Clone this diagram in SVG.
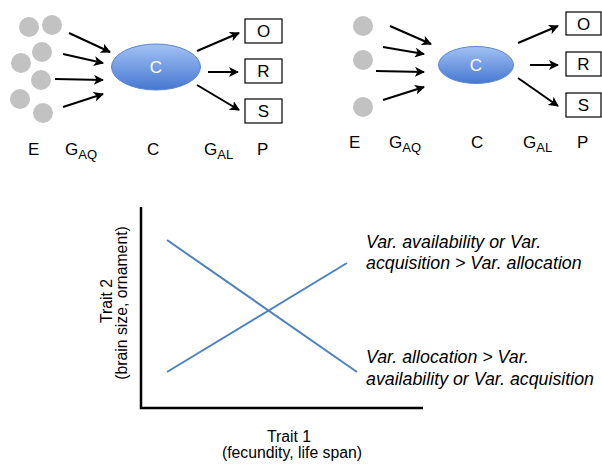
<svg xmlns="http://www.w3.org/2000/svg" width="602" height="464" viewBox="0 0 602 464">
<defs>
<style>
.dot{fill:#c2c2c2}
.arr{stroke:#000;stroke-width:2;fill:none;marker-end:url(#ah)}
.box{fill:#fff;stroke:#000;stroke-width:1.2}
.t{font-family:"Liberation Sans",Arial,sans-serif;fill:#000}
.lbl{font-size:17px}
.sub{font-size:13px}
.bx{font-size:17px;text-anchor:middle}
.cw{font-family:"Liberation Sans",Arial,sans-serif;fill:#fff;font-size:17px;text-anchor:middle}
.ax{stroke:#000;stroke-width:2.5;fill:none}
.bl{stroke:#4f81bd;stroke-width:2;fill:none}
.it{font-size:17.8px;font-style:italic}
.al{font-size:15.8px;text-anchor:middle}
</style>
<marker id="ah" viewBox="0 0 10 10" refX="9" refY="5" markerWidth="5" markerHeight="5" orient="auto" markerUnits="strokeWidth">
<path d="M0,0 L10,5 L0,10 L2.5,5 z" fill="#000"/>
</marker>
<linearGradient id="eg" x1="0" y1="0" x2="0" y2="1">
<stop offset="0" stop-color="#a3c2f5"/>
<stop offset="1" stop-color="#4677d0"/>
</linearGradient>
</defs>

<!-- Left panel -->
<g id="left-E">
<circle class="dot" cx="29" cy="27" r="10"/>
<circle class="dot" cx="52" cy="25" r="10"/>
<circle class="dot" cx="42" cy="52" r="10"/>
<circle class="dot" cx="21" cy="63" r="10"/>
<circle class="dot" cx="41" cy="80" r="10"/>
<circle class="dot" cx="20" cy="99" r="10"/>
<circle class="dot" cx="43" cy="113" r="10"/>
</g>
<g id="left-C">
<ellipse cx="156" cy="67" rx="44.5" ry="23" fill="url(#eg)" stroke="#5a86cf" stroke-width="1"/>
<text class="cw" x="156" y="73">C</text>
</g>
<g id="left-O"><rect class="box" x="245" y="19" width="37" height="24"/><text class="t bx" x="263.5" y="37">O</text></g>
<g id="left-R"><rect class="box" x="245" y="59" width="37" height="24"/><text class="t bx" x="263.5" y="77">R</text></g>
<g id="left-S"><rect class="box" x="245" y="99" width="37" height="24"/><text class="t bx" x="263.5" y="117">S</text></g>

<!-- Right panel -->
<g id="right-E">
<circle class="dot" cx="363" cy="26" r="10"/>
<circle class="dot" cx="363" cy="60" r="10"/>
<circle class="dot" cx="363" cy="107" r="10"/>
</g>
<g id="right-C">
<ellipse cx="476" cy="65" rx="37.5" ry="18.5" fill="url(#eg)" stroke="#5a86cf" stroke-width="1"/>
<text class="cw" x="476" y="71">C</text>
</g>
<g id="right-O"><rect class="box" x="566" y="12" width="35" height="23"/><text class="t bx" x="583.5" y="30">O</text></g>
<g id="right-R"><rect class="box" x="566" y="52" width="35" height="24"/><text class="t bx" x="583.5" y="70">R</text></g>
<g id="right-S"><rect class="box" x="566" y="93" width="35" height="24"/><text class="t bx" x="583.5" y="111">S</text></g>

<g id="connectors">
<line class="arr" x1="69" y1="33" x2="110" y2="52"/>
<line class="arr" x1="63" y1="54" x2="103" y2="63"/>
<line class="arr" x1="55" y1="79" x2="103" y2="80"/>
<line class="arr" x1="63" y1="107" x2="103" y2="94"/>
<line class="arr" x1="197" y1="51" x2="239" y2="33"/>
<line class="arr" x1="208" y1="72" x2="238" y2="72"/>
<line class="arr" x1="197" y1="85" x2="239" y2="110"/>
<line class="arr" x1="390" y1="26" x2="431" y2="44"/>
<line class="arr" x1="383" y1="47" x2="424" y2="54"/>
<line class="arr" x1="376" y1="71" x2="424" y2="72"/>
<line class="arr" x1="383" y1="100" x2="424" y2="87"/>
<line class="arr" x1="518" y1="43" x2="558" y2="26"/>
<line class="arr" x1="530" y1="65" x2="558" y2="65"/>
<line class="arr" x1="518" y1="78" x2="558" y2="106"/>
</g>

<g id="labels-left">
<text class="t lbl" x="28" y="155">E</text>
<text class="t lbl" x="65" y="155">G<tspan class="sub" dy="4">AQ</tspan></text>
<text class="t lbl" x="147" y="155">C</text>
<text class="t lbl" x="204" y="155">G<tspan class="sub" dy="4">AL</tspan></text>
<text class="t lbl" x="257" y="155">P</text>
</g>
<g id="labels-right">
<text class="t lbl" x="349" y="148">E</text>
<text class="t lbl" x="389" y="148">G<tspan class="sub" dy="4">AQ</tspan></text>
<text class="t lbl" x="471" y="148">C</text>
<text class="t lbl" x="523" y="148">G<tspan class="sub" dy="4">AL</tspan></text>
<text class="t lbl" x="577" y="148">P</text>
</g>

<!-- Graph -->
<g id="graph">
<polyline class="ax" points="141,207 141,408 423,408"/>
<line class="bl" x1="167" y1="240" x2="357" y2="372"/>
<line class="bl" x1="167" y1="372" x2="347" y2="263"/>
<text class="t it" x="366" y="248">Var. availability or Var.</text>
<text class="t it" x="366" y="269">acquisition &gt; Var. allocation</text>
<text class="t it" x="366" y="363">Var. allocation &gt; Var.</text>
<text class="t it" x="366" y="385">availability or Var. acquisition</text>
<text class="t al" x="289" y="442">Trait 1</text>
<text class="t al" x="292" y="458">(fecundity, life span)</text>
<text class="t al" transform="translate(112,301) rotate(-90)">Trait 2</text>
<text class="t al" transform="translate(127,303) rotate(-90)">(brain size, ornament)</text>
</g>
</svg>
